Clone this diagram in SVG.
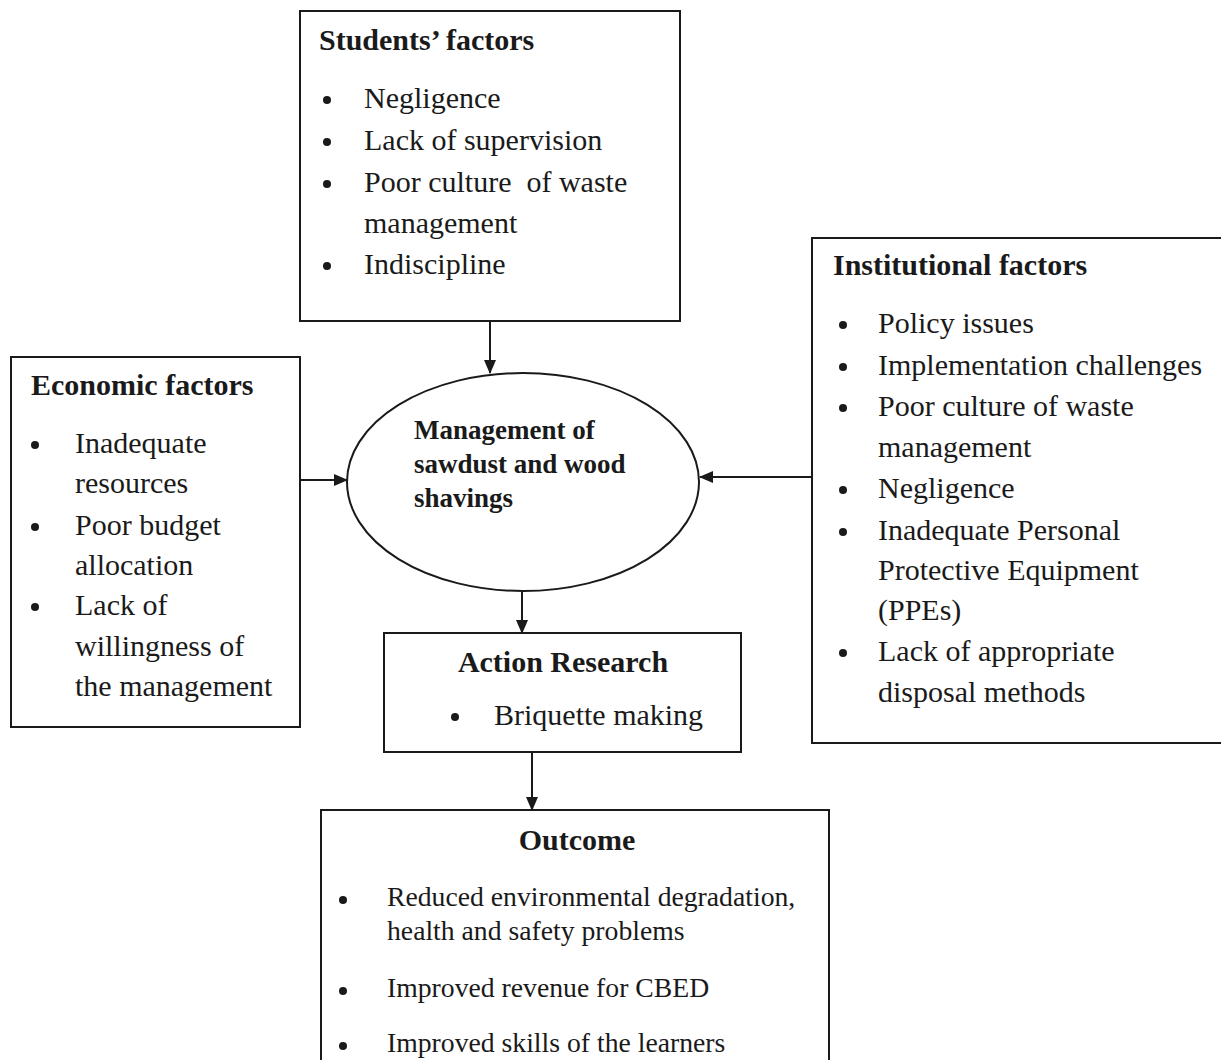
<svg xmlns="http://www.w3.org/2000/svg" width="1221" height="1060" viewBox="0 0 1221 1060">
<defs>
<marker id="ah" markerWidth="14" markerHeight="12" refX="13" refY="6" orient="auto" markerUnits="userSpaceOnUse">
<path d="M0,0 L14,6 L0,12 Z" fill="#1a1a1a"/>
</marker>
<style>
.box{fill:#fff;stroke:#1a1a1a;stroke-width:2}
.t{font-family:"Liberation Serif","Times New Roman",serif;fill:#1a1a1a;white-space:pre}
.h{font-weight:bold;font-size:30px}
.i{font-size:30px}
.o{font-size:27.7px}
.b{fill:#1a1a1a}
.c{stroke:#1a1a1a;stroke-width:2;fill:none;marker-end:url(#ah)}
</style>
</defs>
<rect width="1221" height="1060" fill="#fff"/>
<g id="connectors">
<line class="c" x1="490" y1="321" x2="490" y2="373"/>
<line class="c" x1="300" y1="480" x2="347" y2="480"/>
<line class="c" x1="812" y1="477" x2="700" y2="477"/>
<line class="c" x1="522" y1="592" x2="522" y2="633"/>
<line class="c" x1="532" y1="752" x2="532" y2="810"/>
</g>
<g id="students">
<rect class="box" x="300" y="11" width="380" height="310"/>
<text class="t h" x="319" y="50">Students’ factors</text>
<circle class="b" cx="327" cy="100" r="4"/>
<circle class="b" cx="327" cy="142" r="4"/>
<circle class="b" cx="327" cy="184" r="4"/>
<circle class="b" cx="327" cy="266" r="4"/>
<text class="t i" x="364" y="108">Negligence</text>
<text class="t i" x="364" y="150">Lack of supervision</text>
<text class="t i" x="364" y="192">Poor culture  of waste</text>
<text class="t i" x="364" y="233">management</text>
<text class="t i" x="364" y="274">Indiscipline</text>
</g>
<g id="economic">
<rect class="box" x="11" y="357" width="289" height="370"/>
<text class="t h" x="31" y="395">Economic factors</text>
<circle class="b" cx="35" cy="445" r="4"/>
<circle class="b" cx="35" cy="527" r="4"/>
<circle class="b" cx="35" cy="607" r="4"/>
<text class="t i" x="75" y="453">Inadequate</text>
<text class="t i" x="75" y="493">resources</text>
<text class="t i" x="75" y="535">Poor budget</text>
<text class="t i" x="75" y="575">allocation</text>
<text class="t i" x="75" y="615">Lack of</text>
<text class="t i" x="75" y="656">willingness of</text>
<text class="t i" x="75" y="696">the management</text>
</g>
<g id="institutional">
<rect class="box" x="812" y="238" width="420" height="505"/>
<text class="t h" x="833" y="275">Institutional factors</text>
<circle class="b" cx="843" cy="325" r="4"/>
<circle class="b" cx="843" cy="367" r="4"/>
<circle class="b" cx="843" cy="408" r="4"/>
<circle class="b" cx="843" cy="490" r="4"/>
<circle class="b" cx="843" cy="532" r="4"/>
<circle class="b" cx="843" cy="653" r="4"/>
<text class="t i" x="878" y="333">Policy issues</text>
<text class="t i" x="878" y="375">Implementation challenges</text>
<text class="t i" x="878" y="416">Poor culture of waste</text>
<text class="t i" x="878" y="457">management</text>
<text class="t i" x="878" y="498">Negligence</text>
<text class="t i" x="878" y="540">Inadequate Personal</text>
<text class="t i" x="878" y="580">Protective Equipment</text>
<text class="t i" x="878" y="620">(PPEs)</text>
<text class="t i" x="878" y="661">Lack of appropriate</text>
<text class="t i" x="878" y="702">disposal methods</text>
</g>
<g id="management">
<ellipse class="box" cx="523" cy="482" rx="176" ry="109"/>
<text class="t" font-weight="bold" font-size="27" x="414" y="439">Management of</text>
<text class="t" font-weight="bold" font-size="27" x="414" y="473">sawdust and wood</text>
<text class="t" font-weight="bold" font-size="27" x="414" y="507">shavings</text>
</g>
<g id="action">
<rect class="box" x="384" y="633" width="357" height="119"/>
<text class="t h" x="563" y="672" text-anchor="middle">Action Research</text>
<circle class="b" cx="455" cy="717" r="4"/>
<text class="t i" x="494" y="725">Briquette making</text>
</g>
<g id="outcome">
<rect class="box" x="321" y="810" width="508" height="270"/>
<text class="t h" x="577" y="850" text-anchor="middle">Outcome</text>
<circle class="b" cx="343" cy="900" r="4"/>
<circle class="b" cx="343" cy="991" r="4"/>
<circle class="b" cx="343" cy="1046" r="4"/>
<text class="t o" x="387" y="906">Reduced environmental degradation,</text>
<text class="t o" x="387" y="940">health and safety problems</text>
<text class="t o" x="387" y="997">Improved revenue for CBED</text>
<text class="t o" x="387" y="1052">Improved skills of the learners</text>
</g>
</svg>
